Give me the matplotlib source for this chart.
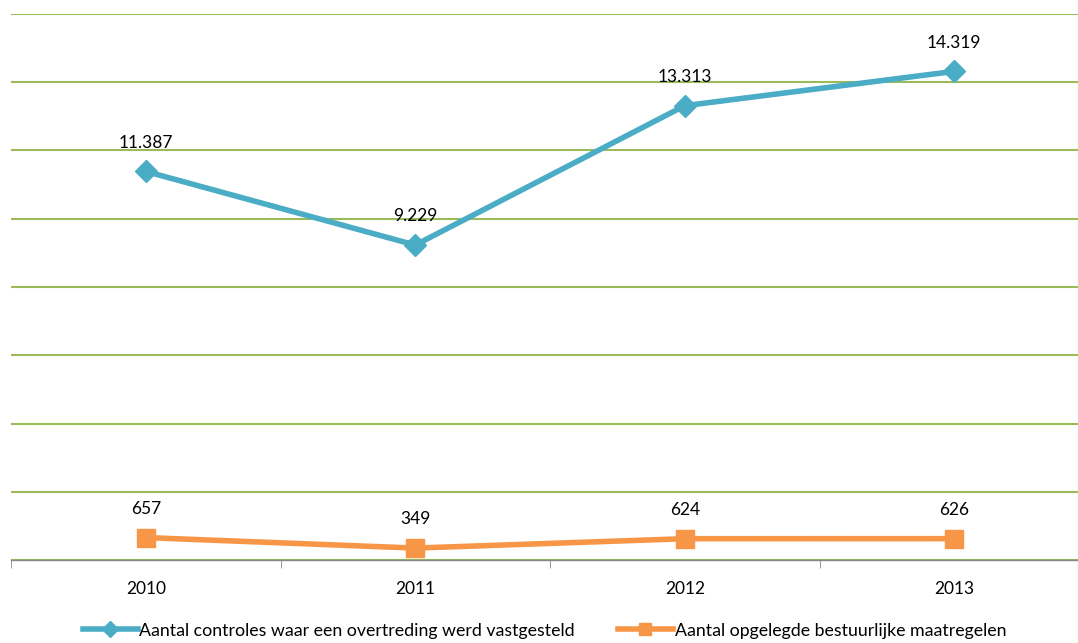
import matplotlib
matplotlib.use("Agg")
import matplotlib.pyplot as plt

years = ["2010", "2011", "2012", "2013"]
controles = [11387, 9229, 13313, 14319]
maatregelen = [657, 349, 624, 626]
labels_controles = ["11.387", "9.229", "13.313", "14.319"]
labels_maatregelen = ["657", "349", "624", "626"]
series_names = ["Aantal controles waar een overtreding werd vastgesteld",
                "Aantal opgelegde bestuurlijke maatregelen"]

plt.rcParams['font.family'] = ['Lato', 'DejaVu Sans']

W, H = 1078, 643
fig = plt.figure(figsize=(W/100, H/100), dpi=100)
ax = fig.add_axes([11/W, (H-560)/H, (1089-11)/W, (560-14)/H])

x = list(range(len(years)))
blue = "#4BACC6"
orange = "#F79646"
ax.plot(x, controles, color=blue, lw=4, marker="D", ms=11, label=series_names[0], zorder=3)
ax.plot(x, maatregelen, color=orange, lw=4, marker="s", ms=13, label=series_names[1], zorder=3)

for xi, v, t in zip(x, controles, labels_controles):
    ax.annotate(t, (xi, v), xytext=(0, 15), textcoords="offset points",
                ha="center", va="bottom", fontsize=12.5, color="#000000")
for xi, v, t in zip(x, maatregelen, labels_maatregelen):
    ax.annotate(t, (xi, v), xytext=(0, 15), textcoords="offset points",
                ha="center", va="bottom", fontsize=12.5, color="#000000")

ax.set_xlim(-0.5, 3.5)
ax.set_ylim(0, 16000)
ax.set_yticks(range(0, 16001, 2000))
ax.yaxis.grid(True, color="#9BBB59", lw=1.5)
ax.set_axisbelow(True)
ax.tick_params(axis="y", left=False, labelleft=False)
for s in ["top", "right", "left"]:
    ax.spines[s].set_visible(False)
ax.spines["bottom"].set_color("#868686")
ax.spines["bottom"].set_linewidth(1)
ax.set_xticks(x)
ax.set_xticklabels(years, fontsize=12.5)
ax.set_xticks([-0.5, 0.5, 1.5, 2.5, 3.5], minor=True)
ax.tick_params(axis="x", which="major", length=0, pad=15)
ax.tick_params(axis="x", which="minor", length=6, color="#868686", direction="out")

leg = fig.legend(loc="lower center", bbox_to_anchor=(0.505, -0.018), ncol=2, frameon=False,
                 fontsize=12.8, handlelength=3.1, handletextpad=0.1, columnspacing=2.4)
for h in leg.legend_handles:
    h.set_markersize(8)

fig.savefig("out.png", dpi=100)
